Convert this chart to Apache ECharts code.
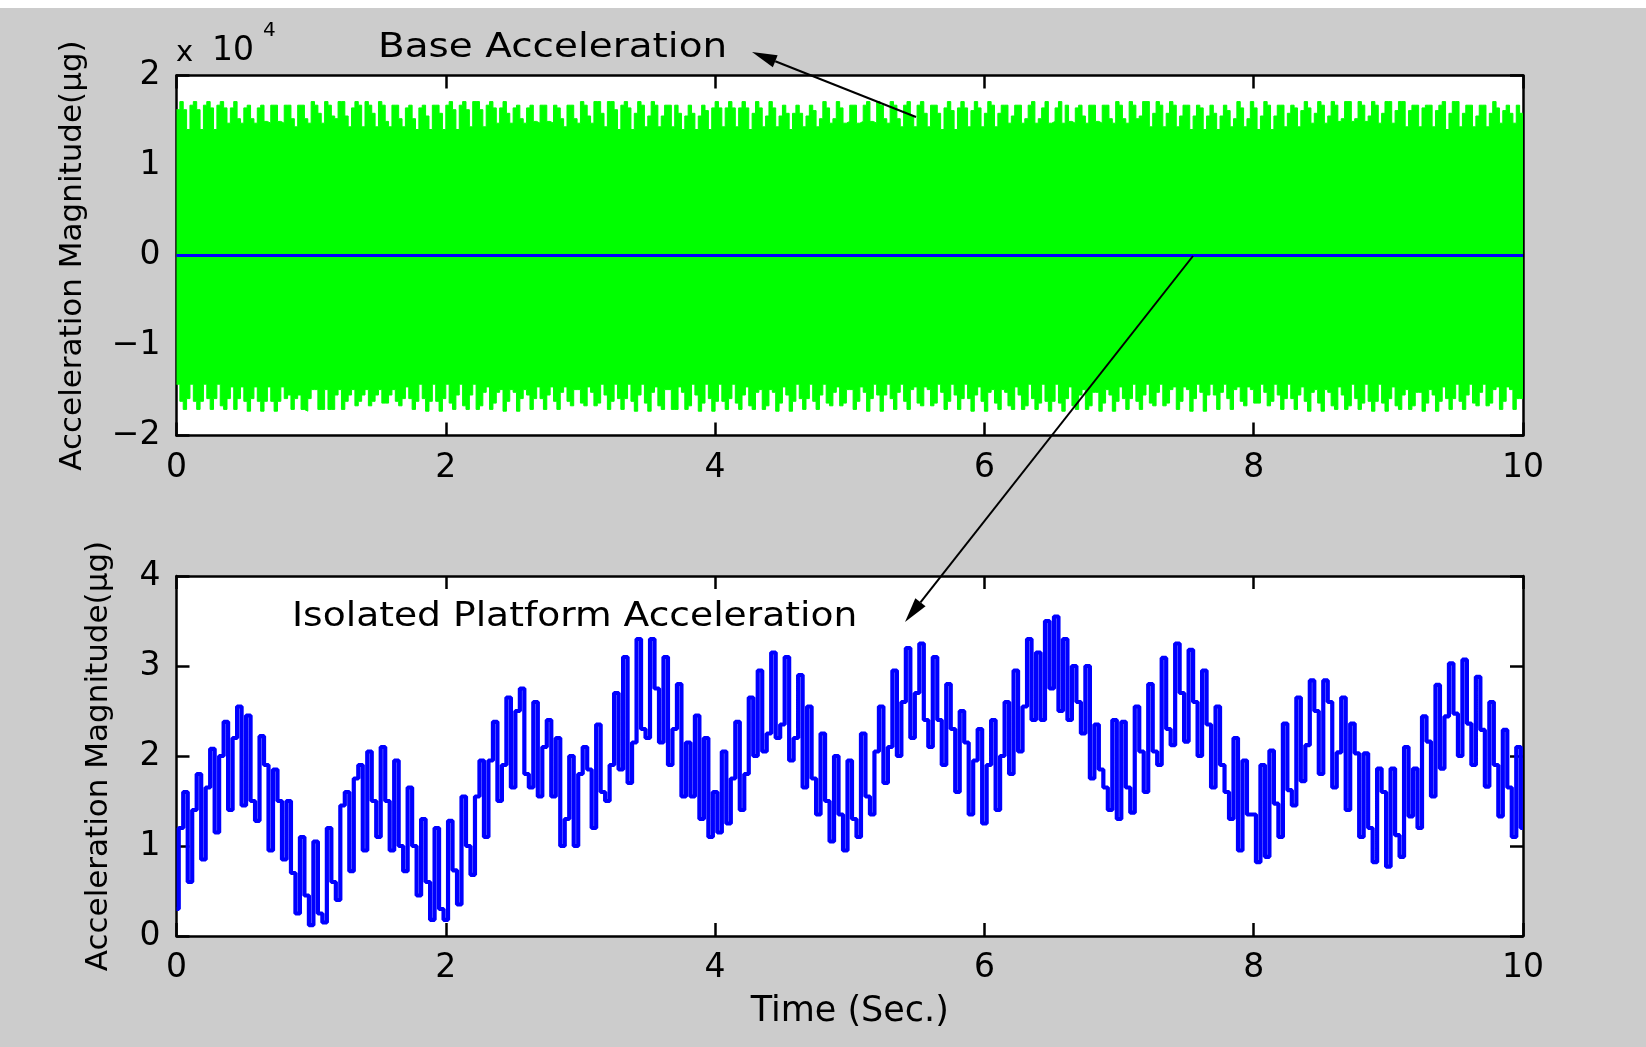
<!DOCTYPE html>
<html>
<head>
<meta charset="UTF-8">
<title>Base / Isolated Platform Acceleration</title>
<script src="https://cdn.jsdelivr.net/npm/echarts@6.0.0/dist/echarts.min.js"></script>
<style>
  html, body { margin: 0; padding: 0; background: #cccccc; }
  #main { width: 1646px; height: 1047px; }
</style>
</head>
<body>
<div id="main"></div>
<script>
// upper / lower edge of the base acceleration trace (x10^4 ug), 4 steps per spike, 0..10 s
var baseTop = [
  1.62,1.71,1.62,1.40, 1.67,1.71,1.62,1.40, 1.67,1.71,1.64,1.40, 1.67,1.71,1.64,1.47, 1.64,1.71,1.52,1.47,
  1.64,1.67,1.52,1.47, 1.64,1.67,1.49,1.47, 1.67,1.67,1.49,1.47, 1.67,1.67,1.52,1.43, 1.67,1.67,1.52,1.47,
  1.71,1.67,1.58,1.47, 1.71,1.67,1.55,1.52, 1.71,1.71,1.55,1.43, 1.64,1.71,1.67,1.43, 1.71,1.67,1.58,1.43,
  1.71,1.67,1.49,1.43, 1.67,1.67,1.52,1.43, 1.64,1.67,1.52,1.40, 1.64,1.67,1.55,1.40, 1.67,1.67,1.58,1.40,
  1.67,1.71,1.62,1.40, 1.67,1.71,1.62,1.43, 1.71,1.71,1.62,1.43, 1.67,1.71,1.64,1.47, 1.64,1.71,1.58,1.47,
  1.64,1.67,1.52,1.47, 1.64,1.67,1.49,1.47, 1.67,1.67,1.49,1.47, 1.67,1.64,1.52,1.43, 1.67,1.67,1.52,1.47,
  1.71,1.67,1.55,1.47, 1.71,1.71,1.58,1.43, 1.71,1.71,1.62,1.40, 1.67,1.71,1.64,1.40, 1.58,1.71,1.67,1.43,
  1.55,1.71,1.67,1.43, 1.55,1.67,1.67,1.43, 1.67,1.58,1.40,1.55, 1.67,1.58,1.40,1.55, 1.67,1.61,1.40,1.64,
  1.71,1.64,1.43,1.64, 1.71,1.64,1.43,1.64, 1.71,1.64,1.40,1.58, 1.71,1.64,1.43,1.55, 1.71,1.64,1.43,1.55,
  1.67,1.58,1.40,1.58, 1.67,1.58,1.43,1.55, 1.67,1.61,1.43,1.52, 1.71,1.64,1.47,1.52, 1.71,1.64,1.47,1.49,
  1.67,1.67,1.47,1.49, 1.67,1.71,1.49,1.47, 1.71,1.67,1.52,1.47, 1.71,1.67,1.52,1.43, 1.67,1.71,1.55,1.43,
  1.67,1.71,1.58,1.43, 1.67,1.67,1.58,1.40, 1.64,1.71,1.61,1.40, 1.64,1.71,1.64,1.43, 1.61,1.71,1.64,1.43,
  1.58,1.71,1.67,1.43, 1.58,1.67,1.67,1.47, 1.55,1.67,1.67,1.47, 1.52,1.67,1.71,1.47, 1.52,1.64,1.71,1.47,
  1.49,1.64,1.71,1.47, 1.67,1.49,1.47,1.64, 1.67,1.55,1.47,1.67, 1.67,1.49,1.47,1.67, 1.67,1.52,1.47,1.71,
  1.67,1.52,1.47,1.71, 1.67,1.52,1.55,1.71, 1.71,1.43,1.58,1.71, 1.67,1.43,1.58,1.71, 1.67,1.43,1.55,1.67,
  1.67,1.40,1.55,1.67, 1.64,1.40,1.55,1.67, 1.58,1.40,1.55,1.67, 1.61,1.43,1.52,1.71, 1.64,1.43,1.52,1.71,
  1.64,1.40,1.55,1.71, 1.67,1.40,1.55,1.67, 1.67,1.43,1.58,1.67, 1.64,1.43,1.61,1.71, 1.64,1.47,1.58,1.71,
  1.67,1.47,1.55,1.71, 1.67,1.49,1.52,1.71, 1.71,1.49,1.52,1.71, 1.67,1.49,1.55,1.71, 1.67,1.47,1.58,1.71,
  1.71,1.47,1.61,1.71, 1.71,1.43,1.61,1.67, 1.67,1.43,1.64,1.67, 1.67,1.43,1.61,1.67, 1.71,1.40,1.58,1.71,
  1.71,1.43,1.58,1.67, 1.67,1.43,1.55,1.67, 1.67,1.43,1.58,1.71, 1.64,1.47,1.61,1.67, 1.58,1.47,1.67,1.58
];
var baseBot = [
  -1.43,-1.62,-1.71,-1.59, -1.43,-1.62,-1.71,-1.62, -1.43,-1.59,-1.71,-1.59, -1.43,-1.67,-1.71,-1.59, -1.46,-1.71,-1.59,-1.46,
  -1.62,-1.73,-1.59,-1.46, -1.62,-1.73,-1.62,-1.46, -1.62,-1.73,-1.62,-1.46, -1.59,-1.55,-1.71,-1.59, -1.55,-1.71,-1.73,-1.59,
  -1.49,-1.49,-1.71,-1.71, -1.49,-1.71,-1.71,-1.55, -1.49,-1.71,-1.62,-1.55, -1.49,-1.67,-1.62,-1.55, -1.49,-1.67,-1.62,-1.55,
  -1.49,-1.64,-1.64,-1.55, -1.49,-1.62,-1.67,-1.59, -1.46,-1.59,-1.71,-1.62, -1.43,-1.59,-1.73,-1.62, -1.43,-1.62,-1.73,-1.59,
  -1.43,-1.64,-1.71,-1.55, -1.43,-1.67,-1.71,-1.55, -1.43,-1.71,-1.67,-1.52, -1.46,-1.71,-1.64,-1.52, -1.49,-1.73,-1.62,-1.49,
  -1.52,-1.73,-1.59,-1.49, -1.55,-1.71,-1.59,-1.46, -1.59,-1.71,-1.55,-1.46, -1.62,-1.71,-1.52,-1.46, -1.62,-1.67,-1.49,-1.49,
  -1.64,-1.67,-1.46,-1.52, -1.67,-1.64,-1.43,-1.55, -1.71,-1.62,-1.43,-1.59, -1.71,-1.59,-1.43,-1.62, -1.73,-1.55,-1.43,-1.64,
  -1.73,-1.52,-1.46,-1.67, -1.71,-1.49,-1.49,-1.71, -1.71,-1.46,-1.52,-1.71, -1.67,-1.43,-1.55,-1.73, -1.64,-1.43,-1.59,-1.73,
  -1.62,-1.43,-1.62,-1.71, -1.59,-1.43,-1.64,-1.71, -1.55,-1.46,-1.67,-1.71, -1.52,-1.49,-1.71,-1.67, -1.49,-1.52,-1.73,-1.64,
  -1.46,-1.55,-1.73,-1.62, -1.43,-1.59,-1.71,-1.59, -1.43,-1.62,-1.71,-1.55, -1.43,-1.64,-1.67,-1.52, -1.46,-1.67,-1.64,-1.49,
  -1.49,-1.71,-1.62,-1.46, -1.52,-1.73,-1.59,-1.43, -1.55,-1.73,-1.55,-1.43, -1.59,-1.71,-1.52,-1.43, -1.62,-1.71,-1.49,-1.46,
  -1.64,-1.67,-1.46,-1.49, -1.67,-1.64,-1.43,-1.52, -1.71,-1.62,-1.43,-1.55, -1.71,-1.59,-1.43,-1.59, -1.73,-1.55,-1.46,-1.62,
  -1.73,-1.52,-1.49,-1.64, -1.71,-1.49,-1.52,-1.67, -1.71,-1.46,-1.55,-1.71, -1.67,-1.43,-1.59,-1.71, -1.64,-1.43,-1.62,-1.73,
  -1.62,-1.43,-1.64,-1.73, -1.59,-1.46,-1.67,-1.71, -1.55,-1.49,-1.71,-1.67, -1.52,-1.52,-1.73,-1.64, -1.49,-1.55,-1.73,-1.62,
  -1.46,-1.59,-1.71,-1.59, -1.43,-1.62,-1.71,-1.55, -1.43,-1.64,-1.67,-1.52, -1.43,-1.67,-1.64,-1.49, -1.46,-1.71,-1.62,-1.46,
  -1.49,-1.73,-1.59,-1.43, -1.52,-1.73,-1.55,-1.43, -1.55,-1.71,-1.52,-1.43, -1.59,-1.71,-1.49,-1.46, -1.62,-1.67,-1.46,-1.49,
  -1.64,-1.64,-1.43,-1.52, -1.67,-1.62,-1.43,-1.55, -1.71,-1.59,-1.43,-1.59, -1.71,-1.55,-1.46,-1.62, -1.73,-1.52,-1.49,-1.64,
  -1.73,-1.49,-1.52,-1.67, -1.71,-1.46,-1.55,-1.71, -1.67,-1.43,-1.59,-1.71, -1.64,-1.43,-1.62,-1.73, -1.62,-1.43,-1.64,-1.73,
  -1.59,-1.46,-1.67,-1.71, -1.55,-1.49,-1.71,-1.67, -1.52,-1.52,-1.73,-1.64, -1.49,-1.55,-1.73,-1.62, -1.46,-1.59,-1.71,-1.59,
  -1.43,-1.62,-1.71,-1.55, -1.43,-1.64,-1.67,-1.52, -1.43,-1.67,-1.64,-1.49, -1.46,-1.71,-1.62,-1.46, -1.49,-1.71,-1.59,-1.59
];

// isolated platform acceleration (ug), uniform samples over 0..10 s
var isoVals = [
  0.3, 1.2, 1.6, 0.6, 1.4, 1.8, 0.85, 1.65, 2.08, 1.15, 2.0, 2.38, 1.4, 2.2, 2.55, 1.45, 2.45, 1.5, 1.28, 2.22, 1.9, 0.95, 1.85, 1.5, 0.85, 1.5, 0.7, 0.25, 1.1, 0.45,
  0.12, 1.05, 0.25, 0.15, 1.2, 0.6, 0.4, 1.45, 1.6, 0.72, 1.75, 1.9, 0.95, 2.05, 1.5, 1.1, 2.1, 1.5, 0.95, 1.95, 1.0, 0.72, 1.65, 1.0, 0.45, 1.3, 0.6, 0.18, 1.2, 0.3,
  0.18, 1.28, 0.73, 0.35, 1.55, 1.0, 0.68, 1.55, 1.95, 1.1, 1.95, 2.38, 1.5, 1.9, 2.65, 1.65, 2.5, 2.75, 1.8, 1.65, 2.6, 1.55, 2.1, 2.4, 1.55, 2.2, 1.0, 1.3, 2.0, 1.0,
  1.8, 2.1, 1.85, 1.2, 2.35, 1.6, 1.5, 1.9, 2.7, 1.85, 3.1, 1.7, 2.15, 3.3, 2.3, 2.2, 3.3, 2.75, 2.15, 3.1, 1.9, 2.3, 2.8, 1.55, 2.15, 1.55, 2.45, 1.3, 2.2, 1.1,
  1.6, 1.15, 2.05, 1.25, 1.75, 2.38, 1.4, 1.8, 2.65, 2.0, 2.95, 2.05, 2.25, 3.15, 2.2, 2.35, 3.1, 1.95, 2.2, 2.9, 1.65, 2.55, 1.75, 1.35, 2.25, 1.5, 1.05, 2.0, 1.35, 0.95,
  1.95, 1.3, 1.1, 2.25, 1.55, 1.35, 2.05, 2.55, 1.7, 2.1, 2.95, 2.0, 2.6, 3.2, 2.2, 2.7, 3.25, 2.4, 2.1, 3.1, 2.4, 1.9, 2.8, 2.3, 1.6, 2.5, 2.15, 1.35, 1.95, 2.3,
  1.25, 1.9, 2.4, 1.4, 2.0, 2.6, 1.8, 2.95, 2.05, 2.55, 3.3, 2.4, 3.15, 2.4, 3.5, 2.75, 3.55, 2.5, 3.3, 2.4, 3.0, 2.6, 2.25, 3.0, 1.75, 2.35, 1.85, 1.65, 1.4, 2.4,
  1.3, 2.38, 1.65, 1.37, 2.55, 2.05, 1.6, 2.8, 2.05, 1.9, 3.09, 2.3, 2.12, 3.25, 2.7, 2.16, 3.18, 2.6, 2.0, 2.95, 2.35, 1.65, 2.55, 1.9, 1.6, 1.3, 2.2, 0.95, 1.95, 1.35,
  1.35, 0.82, 1.9, 0.88, 2.06, 1.47, 1.1, 2.36, 1.62, 1.45, 2.65, 1.72, 2.12, 2.84, 2.5, 1.8, 2.84, 2.6, 1.65, 2.04, 2.65, 1.4, 2.36, 2.03, 1.1, 2.03, 1.2, 0.82, 1.86, 1.6,
  0.77, 1.86, 1.12, 0.88, 2.1, 1.33, 1.86, 1.2, 2.44, 2.16, 1.55, 2.79, 1.86, 2.44, 3.03, 2.47, 2.0, 3.07, 2.36, 1.9, 2.88, 2.29, 1.66, 2.6, 1.9, 1.33, 2.29, 1.65, 1.1, 2.1, 1.2
];

var FONT = 'DejaVu Sans';
var GREEN = '#00ff00', BLUE = '#0000ff';

function envelope(vals) {
  var dt = 10 / vals.length, out = [];
  for (var j = 0; j < vals.length; j++) out.push([j * dt, vals[j]]);
  out.push([10, vals[vals.length - 1]]);
  return out;
}
function samples(vals, div) {
  var dt = 10 / (vals.length - 1);
  return vals.map(function (v, k) { return [k * dt, v / div]; });
}
function minus(v) { return v < 0 ? '\u2212' + (-v) : String(v); }

function xAx(grid, pos, labels, name) {
  return {
    type: 'value', gridIndex: grid, position: pos, min: 0, max: 10, interval: 2,
    axisLine: { show: true, onZero: false, lineStyle: { color: '#000', width: 2.5 } },
    axisTick: { show: true, inside: true, length: 13, lineStyle: { color: '#000', width: 2.5 } },
    axisLabel: { show: labels, margin: 16, color: '#000', fontSize: 33, fontFamily: FONT },
    splitLine: { show: false },
    name: name || '', nameLocation: 'middle', nameGap: 58,
    nameTextStyle: { color: '#000', fontSize: 35, fontFamily: FONT }
  };
}
function yAx(grid, pos, labels, lo, hi, name, gap) {
  return {
    type: 'value', gridIndex: grid, position: pos, min: lo, max: hi, interval: 1,
    axisLine: { show: true, onZero: false, lineStyle: { color: '#000', width: 2.5 } },
    axisTick: { show: true, inside: true, length: 13, lineStyle: { color: '#000', width: 2.5 } },
    axisLabel: { show: labels, margin: 16, color: '#000', fontSize: 33, fontFamily: FONT, formatter: minus },
    splitLine: { show: false },
    name: name || '', nameLocation: 'middle', nameRotate: 90, nameGap: gap || 0,
    nameTextStyle: { color: '#000', fontSize: 31, fontFamily: FONT }
  };
}
function arrow(x1, y1, x2, y2) {
  var dx = x2 - x1, dy = y2 - y1, len = Math.sqrt(dx * dx + dy * dy);
  var ux = dx / len, uy = dy / len, hl = 25, hw = 6.5;
  var bx = x2 - ux * hl, by = y2 - uy * hl;
  return [
    { type: 'line', z: 100, shape: { x1: x1, y1: y1, x2: bx, y2: by }, style: { stroke: '#000', lineWidth: 2 } },
    { type: 'polygon', z: 100, shape: { points: [[x2, y2], [bx - uy * hw, by + ux * hw], [bx + uy * hw, by - ux * hw]] }, style: { fill: '#000' } }
  ];
}
// wide, loosely spaced lettering of the original is approximated with a horizontal stretch
function label(txt, x, y, size, sx) {
  return { type: 'text', z: 100, x: x, y: y, scaleX: sx || 1,
    style: { text: txt, fill: '#000', font: size + 'px "' + FONT + '"', align: 'left', verticalAlign: 'middle' } };
}

var chart = echarts.init(document.getElementById('main'));
var yName = 'Acceleration Magnitude(\u03bcg)';

chart.setOption({
  animation: false,
  backgroundColor: '#cccccc',
  grid: [
    { left: 176.5, top: 75.5, width: 1346.5, height: 360, show: true, backgroundColor: '#fff', borderWidth: 0 },
    { left: 176.5, top: 576, width: 1346.5, height: 360, show: true, backgroundColor: '#fff', borderWidth: 0 }
  ],
  xAxis: [
    xAx(0, 'bottom', true), xAx(0, 'top', false),
    xAx(1, 'bottom', true, 'Time (Sec.)'), xAx(1, 'top', false)
  ],
  yAxis: [
    yAx(0, 'left', true, -2, 2, yName, 88), yAx(0, 'right', false, -2, 2),
    yAx(1, 'left', true, 0, 4, yName, 62), yAx(1, 'right', false, 0, 4)
  ],
  series: [
    { type: 'line', xAxisIndex: 0, yAxisIndex: 0, step: 'end', symbol: 'none', silent: true,
      data: envelope(baseTop), lineStyle: { color: GREEN, width: 1 }, areaStyle: { color: GREEN, opacity: 1 } },
    { type: 'line', xAxisIndex: 0, yAxisIndex: 0, step: 'end', symbol: 'none', silent: true,
      data: envelope(baseBot), lineStyle: { color: GREEN, width: 1 }, areaStyle: { color: GREEN, opacity: 1 } },
    { type: 'line', xAxisIndex: 0, yAxisIndex: 0, symbol: 'none', silent: true,
      data: samples(isoVals, 1e4), lineStyle: { color: BLUE, width: 3 } },
    { type: 'line', xAxisIndex: 2, yAxisIndex: 2, step: 'middle', symbol: 'none', silent: true,
      data: samples(isoVals, 1), lineStyle: { color: BLUE, width: 4.2 } }
  ],
  graphic: [
    { type: 'rect', z: 100, shape: { x: 0, y: 0, width: 1646, height: 8 }, style: { fill: '#fff' } },
    label('x', 176, 53, 29),
    label('10', 212, 51, 33),
    label('4', 263, 31, 20),
    label('Base Acceleration', 378, 48, 33, 1.18),
    label('Isolated Platform Acceleration', 292, 617, 33, 1.14)
  ].concat(arrow(916, 117, 752, 52), arrow(1193, 256, 905, 622))
});
</script>
</body>
</html>
